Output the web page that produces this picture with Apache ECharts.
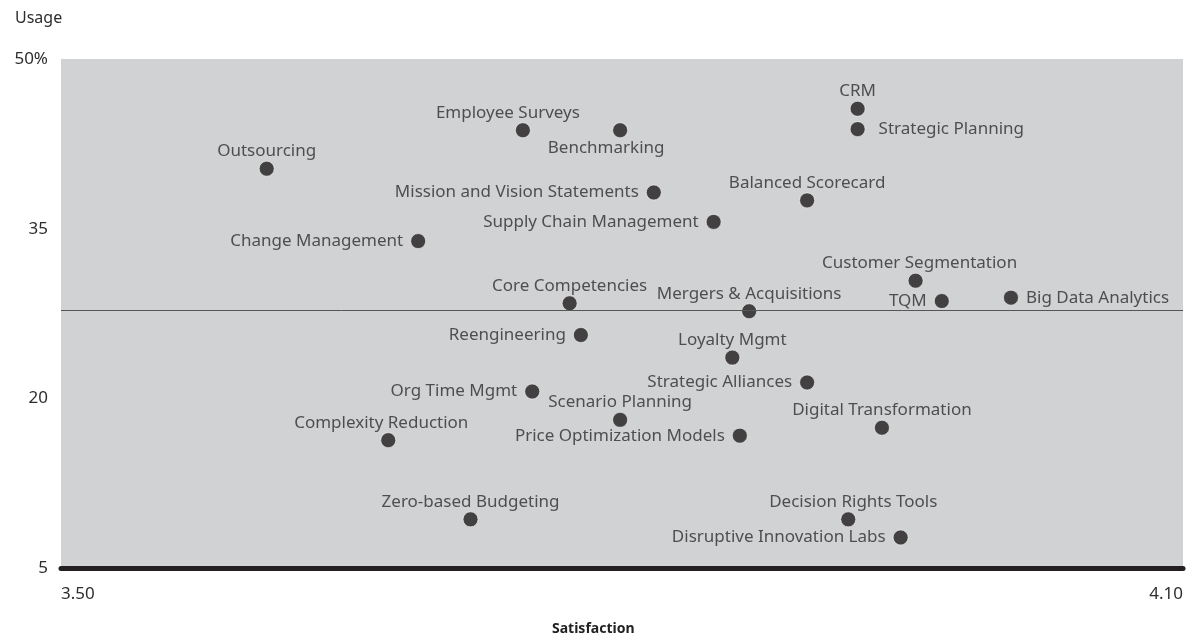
<!DOCTYPE html>
<html>
<head>
<meta charset="utf-8">
<script src="https://cdn.jsdelivr.net/npm/echarts@6/dist/echarts.min.js"></script>
<style>
  html, body { margin: 0; padding: 0; background: #fff; }
  #chart { width: 1188px; height: 641px; }
</style>
</head>
<body>
<div id="chart"></div>
<script>
var tools = ['Outsourcing', 'Change Management', 'Employee Surveys', 'Benchmarking',
    'Mission and Vision Statements', 'Supply Chain Management', 'Balanced Scorecard', 'CRM',
    'Strategic Planning', 'Customer Segmentation', 'TQM', 'Big Data Analytics',
    'Core Competencies', 'Mergers & Acquisitions', 'Reengineering', 'Loyalty Mgmt',
    'Strategic Alliances', 'Org Time Mgmt', 'Scenario Planning', 'Price Optimization Models',
    'Digital Transformation', 'Complexity Reduction', 'Zero-based Budgeting',
    'Decision Rights Tools', 'Disruptive Innovation Labs'];
var satisfaction = [3.610, 3.691, 3.747, 3.799, 3.817, 3.849, 3.899, 3.926,
    3.926, 3.957, 3.971, 4.008, 3.772, 3.868, 3.778, 3.859,
    3.899, 3.752, 3.799, 3.863, 3.939, 3.675, 3.719, 3.921, 3.949];
var usage = [40.3, 33.9, 43.7, 43.7, 38.2, 35.6, 37.5, 45.6,
    43.8, 30.4, 28.6, 28.9, 28.4, 27.7, 25.6, 23.6,
    21.4, 20.6, 18.1, 16.7, 17.4, 16.3, 9.3, 9.3, 7.7];
var averageUsage = 27.8;
var yTicks = [5, 20, 35, 50];
var xTicks = [3.5, 4.1];

// where each label sits relative to its dot
var labelSide = {
    'Change Management': 'left', 'Mission and Vision Statements': 'left',
    'Supply Chain Management': 'left', 'TQM': 'left', 'Reengineering': 'left',
    'Strategic Alliances': 'left', 'Org Time Mgmt': 'left',
    'Price Optimization Models': 'left', 'Disruptive Innovation Labs': 'left',
    'Strategic Planning': 'right', 'Big Data Analytics': 'right',
    'Benchmarking': 'bottom'
};
var labelShift = {
    'Employee Surveys': [-15, 0], 'Benchmarking': [-14, 0],
    'Complexity Reduction': [-7, 0], 'Decision Rights Tools': [5, 0],
    'Customer Segmentation': [4, 0], 'Strategic Planning': [6, 0]
};

var points = tools.map(function (name, i) {
    var side = labelSide[name] || 'top';
    return {
        name: name,
        value: [satisfaction[i], usage[i]],
        label: {
            position: side,
            distance: side === 'top' || side === 'bottom' ? 1 : 7,
            offset: labelShift[name] || [0, 0]
        }
    };
});

var chart = echarts.init(document.getElementById('chart'));
chart.setOption({
    animation: false,
    textStyle: { fontFamily: 'Noto Sans' },
    title: {
        text: 'Usage',
        left: 10, top: 5,
        textStyle: { fontSize: 16, fontWeight: 'normal', color: '#2d2d2d', fontFamily: 'Noto Sans' }
    },
    graphic: [{
        type: 'text',
        left: 552, top: 622,
        style: { text: 'Satisfaction', font: 'bold 14px "Noto Sans"', fill: '#222' }
    }],
    grid: {
        left: 61, right: 5, top: 59, bottom: 73,
        show: true, backgroundColor: '#d1d2d4', borderWidth: 0
    },
    xAxis: {
        type: 'value',
        min: xTicks[0], max: xTicks[1], interval: 0.6,
        axisLine: { show: true, lineStyle: { color: '#231f20', width: 5 } },
        axisTick: { show: false },
        splitLine: { show: false },
        axisLabel: {
            margin: 18, fontSize: 17, color: '#2d2d2d',
            alignMinLabel: 'left', alignMaxLabel: 'right',
            formatter: function (v) { return v.toFixed(2); }
        }
    },
    yAxis: {
        type: 'value',
        min: yTicks[0], max: yTicks[3], interval: 15,
        axisLine: { show: false },
        axisTick: { show: false },
        splitLine: { show: false },
        axisLabel: {
            margin: 13, fontSize: 17, color: '#2d2d2d',
            formatter: function (v) { return v === 50 ? '50%' : String(v); }
        }
    },
    series: [{
        type: 'scatter',
        symbolSize: 15,
        itemStyle: { color: '#1f1b1c', borderColor: 'rgba(255,255,255,0.7)', borderWidth: 1 },
        label: {
            show: true,
            formatter: '{b}',
            fontSize: 17,
            color: '#2d2d2d',
            fontFamily: 'Noto Sans'
        },
        data: points,
        markLine: {
            silent: true,
            symbol: 'none',
            label: { show: false },
            lineStyle: { color: '#555', width: 1, type: 'solid' },
            data: [{ yAxis: averageUsage }]
        },
        z: 3
    }]
});
</script>
</body>
</html>
